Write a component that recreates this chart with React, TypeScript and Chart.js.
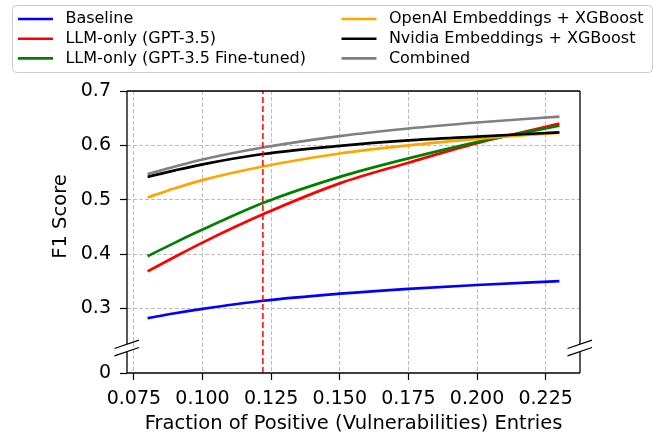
import { useEffect, useRef } from 'react'
import { Chart, registerables } from 'chart.js'

Chart.register(...registerables)

// fraction of positive entries (x) and F1 score per method
const FRACTIONS = [0.08, 0.09, 0.1, 0.122, 0.15, 0.175, 0.2, 0.23]
const BASELINE = [0.282, 0.291, 0.299, 0.314, 0.327, 0.336, 0.343, 0.35]
const LLM_ONLY = [0.368, 0.395, 0.421, 0.473, 0.53, 0.568, 0.604, 0.64]
const LLM_FINETUNED = [0.396, 0.421, 0.445, 0.494, 0.542, 0.576, 0.606, 0.636]
const OPENAI_XGB = [0.504, 0.521, 0.536, 0.561, 0.585, 0.6, 0.612, 0.623]
const NVIDIA_XGB = [0.542, 0.554, 0.565, 0.584, 0.599, 0.609, 0.616, 0.624]
const COMBINED = [0.547, 0.561, 0.574, 0.596, 0.617, 0.631, 0.642, 0.653]

const THRESHOLD = 0.122
const X_TICKS = [0.075, 0.1, 0.125, 0.15, 0.175, 0.2, 0.225]
const Y_TICKS = [0.3, 0.4, 0.5, 0.6, 0.7]
const Y_MIN = 0.181 // axis is broken: bottom of the axis is labelled "0"
const BREAK_AT = 0.227

const SERIES = [
  { label: 'Baseline', data: BASELINE, color: '#0000ff' },
  { label: 'LLM-only (GPT-3.5)', data: LLM_ONLY, color: '#ff0000' },
  { label: 'LLM-only (GPT-3.5 Fine-tuned)', data: LLM_FINETUNED, color: '#008000' },
  { label: 'OpenAI Embeddings + XGBoost', data: OPENAI_XGB, color: '#ffa500' },
  { label: 'Nvidia Embeddings + XGBoost', data: NVIDIA_XGB, color: '#000000' },
  { label: 'Combined', data: COMBINED, color: '#808080' },
]

const FONT = "'DejaVu Sans', sans-serif"

const overlay = {
  id: 'overlay',
  afterDraw(chart: any) {
    const { ctx, chartArea: a, scales } = chart
    ctx.save()

    // spines, with a gap for the axis break
    const yb = scales.y.getPixelForValue(BREAK_AT)
    ctx.strokeStyle = '#000'
    ctx.lineWidth = 1.3
    ctx.beginPath()
    ctx.moveTo(a.left, a.top); ctx.lineTo(a.right, a.top)
    ctx.moveTo(a.left, a.bottom); ctx.lineTo(a.right, a.bottom)
    for (const x of [a.left, a.right]) {
      ctx.moveTo(x, a.top); ctx.lineTo(x, yb - 4)
      ctx.moveTo(x, yb + 4); ctx.lineTo(x, a.bottom)
    }
    ctx.stroke()
    ctx.beginPath()
    for (const x of [a.left, a.right]) {
      for (const d of [-3.7, 3.7]) {
        ctx.moveTo(x - 12.5, yb + d + 4.2)
        ctx.lineTo(x + 12, yb + d - 4.2)
      }
    }
    ctx.stroke()

    // axis titles
    ctx.fillStyle = '#000'
    ctx.font = `19.5px ${FONT}`
    ctx.textAlign = 'center'
    ctx.textBaseline = 'middle'
    ctx.fillText('Fraction of Positive (Vulnerabilities) Entries', (a.left + a.right) / 2, 424)
    ctx.save()
    ctx.translate(61, 216.5)
    ctx.rotate(-Math.PI / 2)
    ctx.fillText('F1 Score', 0, 0)
    ctx.restore()

    // legend, two columns filled top to bottom
    ctx.beginPath()
    ctx.roundRect(12.5, 5.5, 640, 67, 4)
    ctx.fillStyle = '#fff'
    ctx.fill()
    ctx.strokeStyle = '#cccccc'
    ctx.lineWidth = 1
    ctx.stroke()
    ctx.font = `16px ${FONT}`
    ctx.textAlign = 'left'
    SERIES.forEach((s, i) => {
      const col = Math.floor(i / 3)
      const row = i % 3
      const x = col === 0 ? 18 : 341.5
      const y = 19 + row * 19.7
      ctx.strokeStyle = s.color
      ctx.lineWidth = 2.6
      ctx.beginPath()
      ctx.moveTo(x, y); ctx.lineTo(x + 35, y)
      ctx.stroke()
      ctx.fillStyle = '#000'
      ctx.fillText(s.label, x + 47.4, y)
    })

    ctx.restore()
  },
}

export default function App() {
  const canvasRef = useRef<HTMLCanvasElement>(null)

  useEffect(() => {
    if (!canvasRef.current) return

    const datasets: any[] = SERIES.map((s, i) => ({
      label: s.label,
      data: FRACTIONS.map((x, j) => ({ x, y: s.data[j] })),
      borderColor: s.color,
      borderWidth: 2.7,
      pointRadius: 0,
      cubicInterpolationMode: 'monotone',
      order: 10 - i,
    }))
    datasets.push({
      label: 'threshold',
      data: [{ x: THRESHOLD, y: Y_MIN }, { x: THRESHOLD, y: 0.7 }],
      borderColor: '#ff0000',
      borderWidth: 1.5,
      borderDash: [6, 3],
      pointRadius: 0,
      order: 0,
    })

    const chart = new Chart(canvasRef.current, {
      type: 'line',
      data: { datasets },
      plugins: [overlay],
      options: {
        responsive: false,
        animation: false,
        layout: { padding: { top: 91, right: 92, left: 0, bottom: 0 } },
        plugins: { legend: { display: false }, tooltip: { enabled: false } },
        scales: {
          x: {
            type: 'linear',
            min: 0.0725,
            max: 0.2375,
            afterBuildTicks: (scale: any) => { scale.ticks = X_TICKS.map(v => ({ value: v })) },
            afterFit: (scale: any) => { scale.height = 61 },
            ticks: {
              color: '#000',
              font: { family: FONT, size: 19 },
              padding: 8,
              maxRotation: 0,
              callback: (v: any) => Number(v).toFixed(3),
            },
            grid: {
              color: '#bcbcbc',
              lineWidth: 1,
              tickColor: '#000',
              tickLength: 7,
              tickWidth: 1.2,
            },
            border: { display: false, dash: [4, 2] },
          },
          y: {
            type: 'linear',
            min: Y_MIN,
            max: 0.7,
            afterBuildTicks: (scale: any) => {
              scale.ticks = [Y_MIN, ...Y_TICKS].map(v => ({ value: v }))
            },
            afterFit: (scale: any) => { scale.width = 127 },
            ticks: {
              color: '#000',
              font: { family: FONT, size: 19 },
              padding: 9,
              callback: (v: any) => (Number(v) === Y_MIN ? '0' : Number(v).toFixed(1)),
            },
            grid: {
              color: (c: any) => (c.tick && c.tick.value === Y_MIN ? 'rgba(0,0,0,0)' : '#bcbcbc'),
              lineWidth: 1,
              tickColor: '#000',
              tickLength: 7,
              tickWidth: 1.2,
            },
            border: { display: false, dash: [4, 2] },
          },
        },
      },
    })

    return () => { chart.destroy() }
  }, [])

  return (
    <div style={{ position: 'fixed', left: 0, top: 0, width: 672, height: 434, background: '#fff' }}>
      <canvas ref={canvasRef} width={672} height={434} />
    </div>
  )
}
